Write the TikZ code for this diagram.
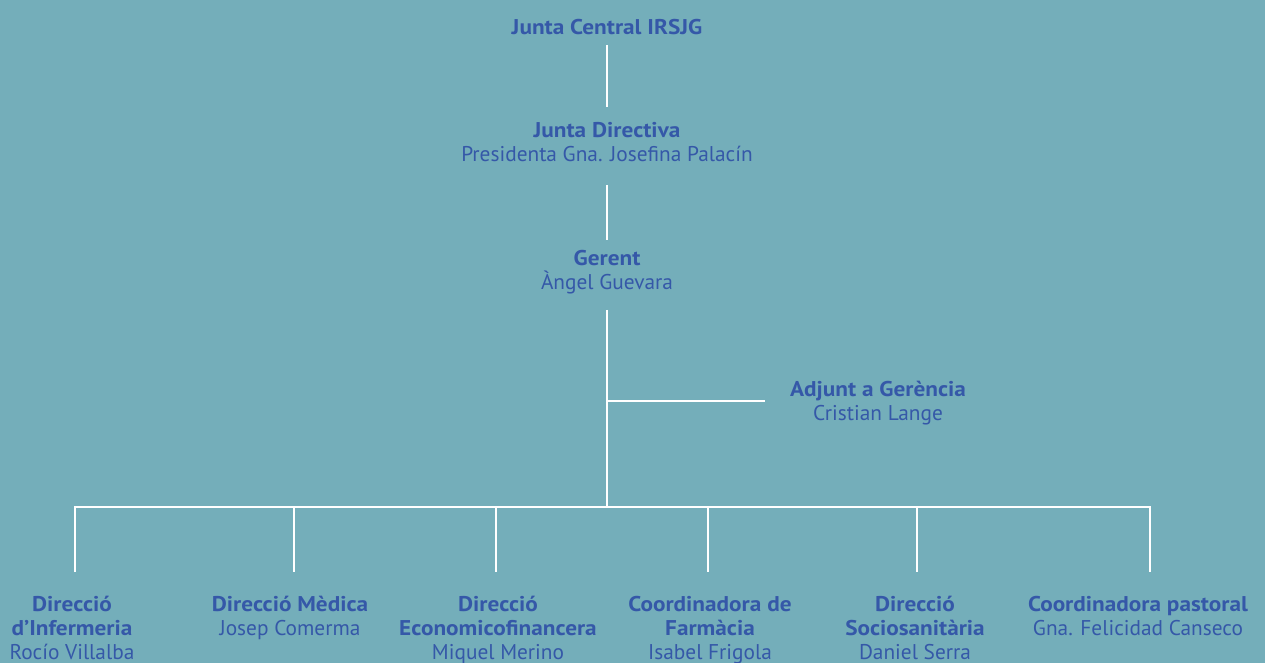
\documentclass[tikz,border=0pt]{standalone}
\usepackage{fontspec}
\setmainfont{PT Sans}[BoldFeatures={FakeStretch=1.09}]
\definecolor{bg}{HTML}{74AEBA}
\definecolor{ink}{HTML}{3558A8}
\begin{document}
\begin{tikzpicture}[x=0.75pt,y=-0.75pt,
  conn/.style={draw=white,line width=2pt},
  unit/.style={text=ink,font=\fontsize{16}{18}\selectfont,align=center,inner sep=0pt,anchor=north}]
\fill[bg] (0,0) rectangle (1265,663);
\useasboundingbox (0,0) rectangle (1265,663);
\node[unit] (jc) at (607,19) {\textbf{Junta Central IRSJG}};
\node[unit] (jd) at (607,122) {\textbf{Junta Directiva}\\Presidenta Gna. Josefina Palacín};
\node[unit] (ge) at (607,250) {\textbf{Gerent}\\Àngel Guevara};
\node[unit] (ad) at (878,381) {\textbf{Adjunt a Gerència}\\Cristian Lange};
\node[unit] (d1) at (72,596) {\textbf{Direcció}\\\textbf{d’Infermeria}\\Rocío Villalba};
\node[unit] (d2) at (290,596) {\textbf{Direcció Mèdica}\\Josep Comerma};
\node[unit] (d3) at (498,596) {\textbf{Direcció}\\\textbf{Economicofinancera}\\Miquel Merino};
\node[unit] (d4) at (710,596) {\textbf{Coordinadora de}\\\textbf{Farmàcia}\\Isabel Frigola};
\node[unit] (d5) at (915,596) {\textbf{Direcció}\\\textbf{Sociosanitària}\\Daniel Serra};
\node[unit] (d6) at (1138,596) {\textbf{Coordinadora pastoral}\\Gna. Felicidad Canseco};
\coordinate (hub) at (607,507);
\coordinate (side) at (607,401);
\draw[conn] (607,45) -- (607,107);
\draw[conn] (607,185) -- (607,240);
\draw[conn] (607,310) -- (hub);
\draw[conn] (side) -- (765,401);
\draw[conn] (75,572) -- (75,507) -- (1150,507) -- (1150,572);
\foreach \x in {294,496,708,917} \draw[conn] (\x,507) -- (\x,572);
\end{tikzpicture}
\end{document}
